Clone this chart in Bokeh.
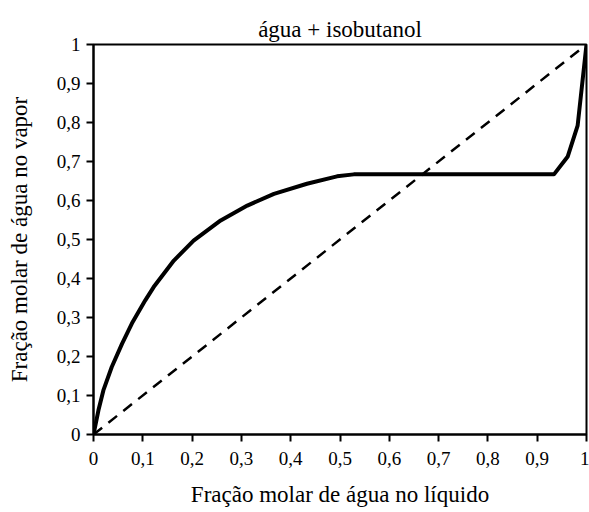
from bokeh.plotting import figure
from bokeh.models import Range1d, FixedTicker
from bokeh.embed import file_html
from bokeh.resources import INLINE

# Equilibrium curve (water + isobutanol)
x_liq = [0.0, 0.010, 0.020, 0.037, 0.058, 0.078, 0.105, 0.122, 0.163, 0.203, 0.258,
         0.312, 0.366, 0.433, 0.494, 0.528, 0.934, 0.962, 0.982, 1.0]
y_vap = [0.0, 0.062, 0.113, 0.173, 0.233, 0.285, 0.344, 0.378, 0.446, 0.497, 0.549,
         0.587, 0.617, 0.643, 0.662, 0.667, 0.667, 0.713, 0.792, 1.0]
# y = x reference line
diag_x = [0.0, 1.0]
diag_y = [0.0, 1.0]

ticks = [0.0, 0.1, 0.2, 0.3, 0.4, 0.5, 0.6, 0.7, 0.8, 0.9, 1.0]
tick_labels = ["0", "0,1", "0,2", "0,3", "0,4", "0,5", "0,6", "0,7", "0,8", "0,9", "1"]

title_text = "água + isobutanol"
x_title = "Fração molar de água no líquido"
y_title = "Fração molar de água no vapor"

FONT = "'Liberation Serif', 'Times New Roman', serif"

p = figure(width=589, height=512, output_backend="svg", toolbar_location=None,
           x_range=Range1d(0, 1), y_range=Range1d(0, 1),
           min_border_left=93, min_border_right=3, min_border_top=44, min_border_bottom=78)

p.title.text = title_text
p.title.align = "center"
p.title.text_font = FONT
p.title.text_font_size = "23px"
p.title.text_font_style = "normal"
p.title.text_color = "black"
p.title.standoff = 5

p.xgrid.visible = False
p.ygrid.visible = False
p.outline_line_color = "black"
p.outline_line_width = 2
p.outline_line_alpha = 1.0

overrides = {t: l for t, l in zip(ticks, tick_labels)}
for ax in (p.xaxis[0], p.yaxis[0]):
    ax.ticker = FixedTicker(ticks=ticks, minor_ticks=[])
    ax.major_label_overrides = overrides
    ax.axis_line_width = 2
    ax.axis_line_color = "black"
    ax.major_tick_line_width = 2
    ax.major_tick_line_color = "black"
    ax.major_tick_out = 7
    ax.major_tick_in = 0
    ax.minor_tick_line_color = None
    ax.major_label_text_font = FONT
    ax.major_label_text_font_size = "19px"
    ax.major_label_text_color = "black"
    ax.axis_label_text_font = FONT
    ax.axis_label_text_font_size = "23px"
    ax.axis_label_text_font_style = "normal"
    ax.axis_label_text_color = "black"

p.xaxis[0].axis_label = x_title
p.xaxis[0].major_label_standoff = 10
p.xaxis[0].axis_label_standoff = 14
p.yaxis[0].axis_label = y_title
p.yaxis[0].major_label_standoff = 6
p.yaxis[0].axis_label_standoff = 22

p.line(diag_x, diag_y, line_color="black", line_width=2.5, line_dash="11 8")
p.line(x_liq, y_vap, line_color="black", line_width=4, line_join="round")

open("out.html", "w").write(file_html(p, INLINE))
